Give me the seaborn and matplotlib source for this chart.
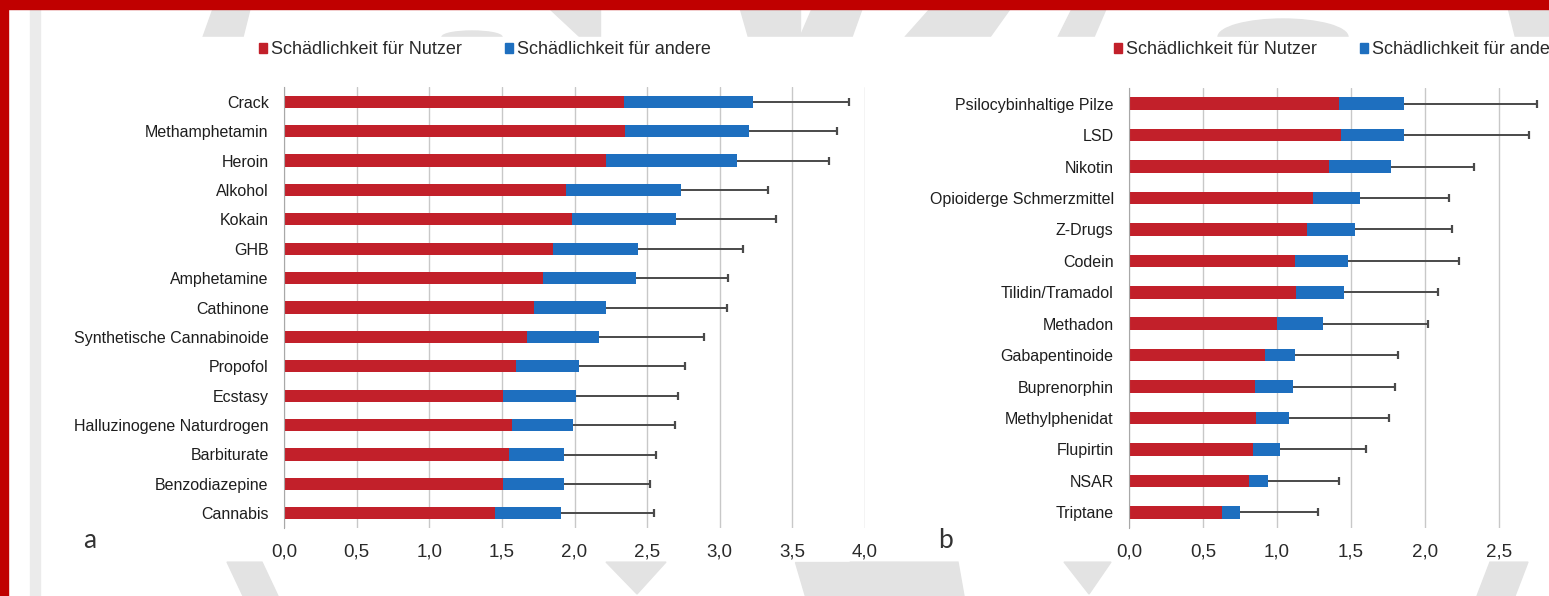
import numpy as np
import pandas as pd
import matplotlib
matplotlib.use("Agg")
import matplotlib.pyplot as plt
import seaborn as sb
from matplotlib.patches import Patch, Polygon, Rectangle, Ellipse

# Panel a
drogen_a = ["Crack", "Methamphetamin", "Heroin", "Alkohol", "Kokain", "GHB",
            "Amphetamine", "Cathinone", "Synthetische Cannabinoide", "Propofol",
            "Ecstasy", "Halluzinogene Naturdrogen", "Barbiturate",
            "Benzodiazepine", "Cannabis"]
nutzer_a = [2.34, 2.35, 2.22, 1.94, 1.98, 1.85, 1.78, 1.72, 1.67, 1.60,
            1.51, 1.57, 1.55, 1.51, 1.45]
andere_a = [0.89, 0.85, 0.90, 0.79, 0.72, 0.59, 0.64, 0.50, 0.50, 0.43,
            0.50, 0.42, 0.38, 0.42, 0.46]
sd_a = [0.66, 0.61, 0.63, 0.60, 0.69, 0.72, 0.64, 0.83, 0.72, 0.73,
        0.70, 0.70, 0.63, 0.59, 0.64]

# Panel b
drogen_b = ["Psilocybinhaltige Pilze", "LSD", "Nikotin",
            "Opioiderge Schmerzmittel", "Z-Drugs", "Codein", "Tilidin/Tramadol",
            "Methadon", "Gabapentinoide", "Buprenorphin", "Methylphenidat",
            "Flupirtin", "NSAR", "Triptane"]
nutzer_b = [1.42, 1.43, 1.35, 1.24, 1.20, 1.12, 1.13, 1.00, 0.92, 0.85,
            0.86, 0.84, 0.81, 0.63]
andere_b = [0.44, 0.43, 0.42, 0.32, 0.33, 0.36, 0.32, 0.31, 0.20, 0.26,
            0.22, 0.18, 0.13, 0.12]
sd_b = [0.90, 0.84, 0.56, 0.60, 0.65, 0.75, 0.64, 0.71, 0.70, 0.69,
        0.68, 0.58, 0.48, 0.53]

legende = ["Schädlichkeit für Nutzer", "Schädlichkeit für andere"]
ROT = "#C2202A"
BLAU = "#1E6FBF"
GRAU = "#A8A8A8"

sb.set_style("white")
plt.rcParams["font.family"] = ["Liberation Sans", "DejaVu Sans"]

W, H = 1549, 596
fig = plt.figure(figsize=(W / 100, H / 100), dpi=100)


def px(x, y):
    return (x / W, 1 - y / H)


# Rahmen und Wasserzeichen
deko = "#E3E3E3"
for poly in [
    [(213, 9), (250, 9), (243, 37), (203, 37)],
    [(550, 9), (600, 9), (600, 37), (580, 37)],
    [(740, 9), (800, 9), (800, 37), (748, 37)],
    [(812, 9), (862, 9), (852, 37), (800, 37)],
    [(930, 9), (1010, 9), (990, 37), (905, 37)],
    [(1072, 9), (1106, 9), (1094, 37), (1058, 37)],
    [(1508, 9), (1549, 9), (1549, 37), (1515, 37)],
    [(227, 562), (262, 562), (278, 596), (243, 596)],
    [(606, 562), (666, 562), (637, 594)],
    [(795, 562), (900, 562), (900, 596), (805, 596)],
    [(850, 562), (958, 562), (964, 596), (850, 596)],
    [(1064, 562), (1111, 562), (1089, 594)],
    [(1490, 562), (1528, 562), (1515, 596), (1477, 596)],
]:
    fig.patches.append(Polygon([px(*p) for p in poly], closed=True,
                               transform=fig.transFigure, color=deko, zorder=-3))
for cx, w, h in [(472, 60, 12), (1283, 130, 36)]:
    fig.patches.append(Ellipse(px(cx, 37), w / W, h / H,
                               transform=fig.transFigure, color=deko, zorder=-3))
fig.patches.append(Rectangle(px(0, 560), 1, 523 / H, transform=fig.transFigure,
                             color="white", zorder=-2))
fig.patches.append(Rectangle(px(30, 596), 10 / W, 587 / H, transform=fig.transFigure,
                             color="#EBEBEB", zorder=-1))
fig.patches.append(Rectangle(px(0, 9), 1, 9 / H, transform=fig.transFigure,
                             color="#C00000", zorder=6))
fig.patches.append(Rectangle(px(0, 596), 8 / W, 1, transform=fig.transFigure,
                             color="#C00000", zorder=6))


def panel(ax, namen, nutzer, andere, sd, xmax, tmax, breite):
    df = pd.DataFrame({"Droge": namen, "Nutzer": nutzer,
                       "Gesamt": np.add(nutzer, andere), "SD": sd})
    n = len(df)
    sb.barplot(data=df, x="Gesamt", y="Droge", color=BLAU, saturation=1,
               width=breite, errorbar=None, linewidth=0, ax=ax)
    sb.barplot(data=df, x="Nutzer", y="Droge", color=ROT, saturation=1,
               width=breite, errorbar=None, linewidth=0, ax=ax)
    eb = ax.errorbar(df.Gesamt, np.arange(n),
                     xerr=[np.zeros(n), df.SD], fmt="none",
                     ecolor="#4A4A4A", elinewidth=1.4, capsize=3, capthick=1.6)
    eb[1][0].set_visible(False)
    ax.set_xlim(0, xmax)
    ax.set_ylim(n - 0.5, -0.5)
    ticks = np.arange(0, tmax + 0.01, 0.5)
    ax.set_xticks(ticks)
    ax.set_xticklabels([f"{t:.1f}".replace(".", ",") for t in ticks])
    ax.grid(axis="x", color="#C8C8C8", lw=1)
    if xmax > tmax:
        ax.axvline(xmax, color="#C8C8C8", lw=1, zorder=0)
    ax.set_axisbelow(True)
    ax.set_xlabel("")
    ax.set_ylabel("")
    for s in ["top", "right", "bottom"]:
        ax.spines[s].set_visible(False)
    ax.spines["left"].set_color(GRAU)
    ax.set_yticks(np.arange(-0.5, n, 1), minor=True)
    ax.tick_params(axis="y", which="minor", length=4, color=GRAU, direction="out")
    ax.tick_params(axis="y", which="major", length=0, pad=11, labelsize=11.5,
                   labelcolor="#1E1E1E")
    ax.tick_params(axis="x", length=0, pad=11, labelsize=13.5, labelcolor="#2A2A2A")
    ax.set_facecolor("none")
    ax.set_zorder(2)


ax_a = fig.add_axes([284 / W, 1 - 528 / H, 581 / W, 441 / H])
panel(ax_a, drogen_a, nutzer_a, andere_a, sd_a, 4.0, 4.0, 0.42)
ax_b = fig.add_axes([1129 / W, 1 - 528 / H, 444 / W, 440 / H])
panel(ax_b, drogen_b, nutzer_b, andere_b, sd_b, 3.0, 2.5, 0.40)

griffe = [Patch(color=ROT, label=legende[0]), Patch(color=BLAU, label=legende[1])]
for xc in [485, 1340]:
    fig.legend(handles=griffe, loc="center", bbox_to_anchor=px(xc, 50), ncol=2,
               frameon=False, fontsize=13, handlelength=0.45, handleheight=0.45,
               handletextpad=0.2, columnspacing=2.4, labelcolor="#2A2A2A")

fig.text(90 / W, 1 - 541 / H, "a", fontsize=19, color="#333333",
         family=["Lato", "DejaVu Sans"], va="center", ha="center")
fig.text(945 / W, 1 - 541 / H, "b", fontsize=19, color="#333333",
         family=["Lato", "DejaVu Sans"], va="center", ha="center")

plt.savefig("out.png", dpi=100)
